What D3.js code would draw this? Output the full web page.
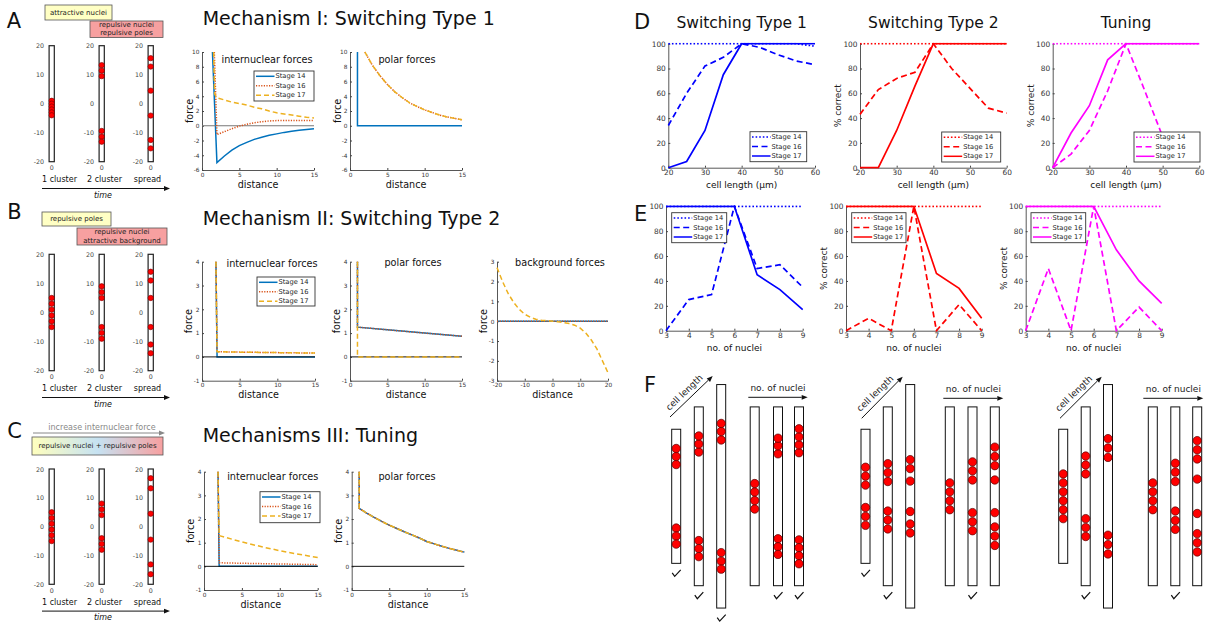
<!DOCTYPE html>
<html>
<head>
<meta charset="utf-8">
<script src="https://cdn.jsdelivr.net/npm/d3@7"></script>
<style>
  body { margin: 0; background: #fff; }
  svg { display: block; font-family: 'DejaVu Sans', sans-serif; }
</style>
</head>
<body>
<svg id="svg" width="1210" height="627"></svg>
<script>
// ---------- data ----------
const stageNames = ['Stage 14', 'Stage 16', 'Stage 17'];
const clusterLabels = ['1 cluster', '2 cluster', 'spread'];
const columnTicks = [20, 10, 0, -10, -20];

// nucleus positions along the cell (-20..20) for the three snapshots
const nucleiA = [[1, 0, -1, -2, -3, -4], [13.3, 11.4, 9.5, -9.4, -11.4, -13.1], [15.7, 12.8, 4.5, -4.1, -12.5, -15.4]];
const nucleiB = [[5, 3, 1, -1, -3, -5], [9, 7, 5, -5, -7, -9], [14, 11, 5, -5, -11, -14]];
const nucleiC = [[5, 3, 1, -1, -3, -5], [8, 6, 4, -4, -6, -8], [16.8, 13.3, 4.5, -4.5, -13.1, -16.5]];

// force curves, [distance, force]
const m1Inter14 = [[1.4, 10], [2, -5], [3, -4.1], [4, -3.3], [5, -2.7], [6, -2.25], [7, -1.85], [8, -1.55], [9, -1.3], [10, -1.1], [11, -0.9], [12, -0.75], [13, -0.62], [14, -0.5], [15, -0.4]];
const m1Inter16 = [[1.65, 10], [2, -1.2], [3, -0.8], [4, -0.4], [5, -0.05], [6, 0.2], [7, 0.4], [8, 0.55], [9, 0.65], [10, 0.7], [11, 0.72], [12, 0.72], [13, 0.72], [14, 0.7], [15, 0.7]];
const m1Inter17 = [[1.55, 10], [1.7, 4.3], [2, 3.8], [3, 3.5], [4, 3.2], [5, 3.0], [6, 2.8], [7, 2.5], [8, 2.3], [9, 2.0], [10, 1.75], [11, 1.6], [12, 1.45], [13, 1.3], [14, 1.15], [15, 1.05]];
const m1Polar14 = [[1, 10], [1, 0], [15, 0]];
const m1Polar16 = [[2, 10], [3, 8.2], [4, 6.8], [5, 5.6], [6, 4.6], [7, 3.8], [8, 3.1], [9, 2.6], [10, 2.15], [11, 1.8], [12, 1.45], [13, 1.2], [14, 1.0], [15, 0.8]];
const m1Polar17 = [[2, 10], [3, 8.2], [4, 6.8], [5, 5.6], [6, 4.6], [7, 3.8], [8, 3.1], [9, 2.6], [10, 2.15], [11, 1.8], [12, 1.45], [13, 1.2], [14, 1.0], [15, 0.8]];

const m2Inter14 = [[1.85, 4], [2, 0], [15, 0]];
const m2Inter16 = [[1.85, 4], [2, 0.22], [5, 0.2], [10, 0.18], [15, 0.16]];
const m2Inter17 = [[1.85, 4], [2, 0.22], [5, 0.2], [10, 0.18], [15, 0.16]];
const m2Polar14 = [[1, 4], [1, 1.25], [5, 1.14], [10, 1.0], [15, 0.87]];
const m2Polar16 = [[1, 4], [1, 1.25], [5, 1.14], [10, 1.0], [15, 0.87]];
const m2Polar17 = [[1, 4], [1, 0], [15, 0]];
const m2Back14 = [[-20, 0], [20, 0]];
const m2Back16 = [[-20, 0], [20, 0]];
const m2Back17 = [[-20, 2.7], [-18, 2.0], [-16, 1.4], [-14, 0.95], [-12, 0.6], [-10, 0.35], [-8, 0.2], [-6, 0.1], [-4, 0.05], [-2, 0.03], [0, 0], [2, -0.03], [4, -0.07], [6, -0.12], [8, -0.2], [10, -0.35], [12, -0.6], [14, -0.95], [16, -1.4], [18, -2.0], [20, -2.6]];

const m3Inter14 = [[1.85, 4], [2, 0], [15, 0]];
const m3Inter16 = [[1.85, 4], [2, 0.15], [5, 0.13], [10, 0.1], [15, 0.07]];
const m3Inter17 = [[1.85, 4], [2, 1.3], [4, 1.12], [6, 0.95], [8, 0.8], [10, 0.66], [12, 0.54], [15, 0.37]];
const m3Polar = [[1, 4], [1, 2.45], [2, 2.25], [3, 2.07], [4, 1.9], [5, 1.74], [6, 1.6], [7, 1.46], [8, 1.33], [9, 1.2], [10, 1.05], [11, 0.95], [12, 0.85], [13, 0.76], [14, 0.68], [15, 0.6]];

// % correct vs cell length (stage 14, 16, 17)
const cellLength = [20, 25, 30, 35, 40, 45, 50, 55, 60];
const lenType1 = [[100, 100, 100, 100, 100, 100, 100, 100, 98], [34, 60, 82, 89, 100, 97, 91, 86, 83], [0, 5, 30, 75, 100, 100, 100, 100, 100]];
const lenType2 = [[100, 100, 100, 100, 100, 100, 100, 100, 100], [43, 63, 72, 77, 100, 80, 64, 48, 44], [0, 0, 30, 66, 100, 100, 100, 100, 100]];
const lenTuning = [[100, 100, 100, 100, 100, 100, 100, 100, 100], [0, 11, 30, 62, 100, 63, 25, 14, 12], [0, 28, 50, 87, 100, 100, 100, 100, 100]];

// % correct vs number of nuclei
const nucleiCount = [3, 4, 5, 6, 7, 8, 9];
const numType1 = [[100, 100, 100, 100, 100, 100, 100], [0, 25, 29, 100, 50, 53, 35], [100, 100, 100, 100, 45, 33, 17]];
const numType2 = [[100, 100, 100, 100, 100, 100, 100], [0, 10, 0, 100, 0, 21, 0], [100, 100, 100, 100, 46, 34, 10]];
const numTuning = [[100, 100, 100, 100, 100, 100, 100], [0, 50, 0, 100, 0, 19, 0], [100, 100, 100, 100, 65, 40, 22]];

// panel F: cell length (um) and nucleus positions (um from cell centre)
const fCellLength = [30, 40, 50, 40, 40, 40];
const fType1 = [[7.1, 8.9, 10.7, -7.1, -8.9, -10.7], [9.9, 11.7, 13.5, -9.9, -11.7, -13.5], [12.6, 14.5, 16.3, -12.6, -14.5, -16.3],
  [2.85, 0.95, -0.95, -2.85], [9.5, 11.3, 13, -9.5, -11.3, -13], [9.75, 11.5, 13.3, 15.1, -9.75, -11.5, -13.3, -15.1]];
const fType2 = [[2.5, 4.5, 6.5, -2.5, -4.5, -6.5], [3.3, 5.3, 7.3, -3.3, -5.3, -7.3], [3.4, 6.2, 8.2, -3.4, -6.2, -8.2],
  [3, 1, -1, -3], [3.65, 5.7, 7.7, -3.65, -5.7, -7.7], [3.65, 6.85, 8.9, 11, -3.65, -6.85, -8.9, -11]];
const fTuning = [[5, 3, 1, -1, -3, -5], [9, 7, 5, -5, -7, -9], [8.7, 10.8, 12.9, -8.7, -10.8, -12.9],
  [3, 1, -1, -3], [3.3, 5.4, 7.4, -3.3, -5.4, -7.4], [3.85, 8.35, 10.4, 12.45, -3.85, -8.35, -10.4, -12.45]];
const fChecks = [[1, 1, 1, 0, 1, 1], [1, 1, 0, 0, 1, 0], [0, 1, 0, 0, 1, 0]];

// ---------- drawing ----------
const svg = d3.select('#svg');
const FONT = "'DejaVu Sans', sans-serif";
const C14 = '#0072BD', C16 = '#D95319', C17 = '#EDB120';
const stageColors = [C14, C16, C17];
const forceDash = [null, '1.2,1.4', '5,3'];
const pctDashByStage = ['1.6,2', '6,3.5', null];
const defs = svg.append('defs');
let clipN = 0;

function txt(g, x, y, s, size, opts = {}) {
  const t = g.append('text').attr('x', x).attr('y', y).text(s)
    .attr('font-size', size).attr('font-family', FONT)
    .attr('fill', opts.fill || '#111')
    .attr('text-anchor', opts.anchor || 'middle');
  if (opts.central !== false) t.attr('dominant-baseline', 'central');
  if (opts.italic) t.attr('font-style', 'italic');
  if (opts.rotate) t.attr('transform', `rotate(${opts.rotate},${x},${y})`);
  return t;
}

function arrow(g, x1, y1, x2, y2, color, w) {
  const ang = Math.atan2(y2 - y1, x2 - x1);
  const L = 6, W = 2.4;
  const bx = x2 - L * Math.cos(ang), by = y2 - L * Math.sin(ang);
  g.append('line').attr('x1', x1).attr('y1', y1).attr('x2', bx).attr('y2', by)
    .attr('stroke', color).attr('stroke-width', w);
  g.append('path')
    .attr('d', `M${x2},${y2}L${bx - W * Math.sin(ang)},${by + W * Math.cos(ang)}L${bx + W * Math.sin(ang)},${by - W * Math.cos(ang)}Z`)
    .attr('fill', color);
}

function axesBox(box, xDom, yDom, xTicks, yTicks, tickFont) {
  const x = d3.scaleLinear().domain(xDom).range([box[0], box[2]]);
  const y = d3.scaleLinear().domain(yDom).range([box[3], box[1]]);
  const g = svg.append('g');
  const id = 'clip' + (clipN++);
  defs.append('clipPath').attr('id', id).append('rect')
    .attr('x', box[0] - 1).attr('y', box[1] - 1)
    .attr('width', box[2] - box[0] + 2).attr('height', box[3] - box[1] + 2);
  const xa = g.append('g').attr('transform', `translate(0,${box[3]})`)
    .call(d3.axisBottom(x).tickValues(xTicks).tickSizeInner(-2).tickSizeOuter(0).tickPadding(2.5).tickFormat(d => String(d)));
  const ya = g.append('g').attr('transform', `translate(${box[0]},0)`)
    .call(d3.axisLeft(y).tickValues(yTicks).tickSizeInner(-2).tickSizeOuter(0).tickPadding(2.5).tickFormat(d => String(d)));
  [xa, ya].forEach(a => {
    a.select('.domain').attr('stroke', '#444').attr('stroke-width', 0.9);
    a.selectAll('.tick line').attr('stroke', '#444');
    a.selectAll('.tick text').attr('fill', '#333').attr('font-size', tickFont).attr('font-family', FONT);
  });
  const plot = g.append('g').attr('clip-path', `url(#${id})`);
  return { g, plot, x, y };
}

function legend(g, box, colors, dashes, lw) {
  g.append('rect').attr('x', box[0]).attr('y', box[1])
    .attr('width', box[2] - box[0]).attr('height', box[3] - box[1])
    .attr('fill', '#fff').attr('stroke', '#333').attr('stroke-width', 0.9);
  stageNames.forEach((s, i) => {
    const yy = box[1] + 5.3 + i * 9.5;
    g.append('line').attr('x1', box[0] + 2).attr('x2', box[0] + 20.5).attr('y1', yy).attr('y2', yy)
      .attr('stroke', colors[i]).attr('stroke-width', lw).attr('stroke-dasharray', dashes[i]);
    txt(g, box[0] + 21.5, yy, s, 6.7, { anchor: 'start', fill: '#222' });
  });
}

function forcePlot(cfg) {
  const { g, plot, x, y } = axesBox(cfg.box, cfg.xDom, cfg.yDom, cfg.xTicks, cfg.yTicks, 5.8);
  const line = d3.line().x(d => x(d[0])).y(d => y(d[1]));
  const draw = (pts, i) => plot.append('path').datum(pts).attr('d', line)
    .attr('fill', 'none').attr('stroke', stageColors[i]).attr('stroke-width', 1.5)
    .attr('stroke-dasharray', forceDash[i]);
  draw(cfg.series[0], 0);
  if (cfg.zero) {
    plot.append('line').attr('x1', x(cfg.xDom[0])).attr('x2', x(cfg.xDom[1]))
      .attr('y1', y(0)).attr('y2', y(0)).attr('stroke', cfg.zero).attr('stroke-width', 1);
  }
  draw(cfg.series[1], 1);
  draw(cfg.series[2], 2);
  txt(g, cfg.titleX, cfg.titleY, cfg.title, 9.7);
  txt(g, (cfg.box[0] + cfg.box[2]) / 2, cfg.box[3] + 14, 'distance', 9.6);
  txt(g, cfg.box[0] - 13, (cfg.box[1] + cfg.box[3]) / 2, 'force', 9.6, { rotate: -90 });
  if (cfg.legend) legend(g, cfg.legend, stageColors, forceDash, 1.5);
}

function pctPlot(cfg) {
  const { g, plot, x, y } = axesBox(cfg.box, cfg.xDom, [0, 100], cfg.xTicks, [0, 20, 40, 60, 80, 100], 7.4);
  const line = d3.line().x(d => x(d[0])).y(d => y(d[1]));
  cfg.values.forEach((vals, i) => {
    plot.append('path').datum(cfg.xs.map((v, k) => [v, vals[k]])).attr('d', line)
      .attr('fill', 'none').attr('stroke', cfg.color).attr('stroke-width', 1.7)
      .attr('stroke-dasharray', pctDashByStage[i]);
  });
  if (cfg.title) txt(g, (cfg.box[0] + cfg.box[2]) / 2, 28.3, cfg.title, 15.5, { central: false });
  txt(g, (cfg.box[0] + cfg.box[2]) / 2, cfg.box[3] + 17, cfg.xlabel, 9);
  if (cfg.ylabel) txt(g, cfg.box[0] - 22, (cfg.box[1] + cfg.box[3]) / 2, '% correct', 9, { rotate: -90, fill: '#222' });
  legend(g, cfg.legend, [cfg.color, cfg.color, cfg.color], pctDashByStage, 1.5);
}

const colX = [51.7, 101.7, 150.7];
const colLabelX = [59.5, 104.5, 147.5];
function nucleiPanel(yTop, yBot, nuclei) {
  const y = d3.scaleLinear().domain([-20, 20]).range([yBot, yTop]);
  const g = svg.append('g');
  nuclei.forEach((col, i) => {
    const cx = colX[i];
    const ax = g.append('g').attr('transform', `translate(${cx - 2.6},0)`)
      .call(d3.axisLeft(y).tickValues(columnTicks).tickSize(0).tickPadding(5).tickFormat(d => String(d)));
    ax.select('.domain').remove();
    ax.selectAll('.tick text').attr('fill', '#444').attr('font-size', 6.3).attr('font-family', FONT);
    g.append('rect').attr('x', cx - 2.6).attr('y', yTop).attr('width', 5.2).attr('height', yBot - yTop)
      .attr('fill', '#fff').attr('stroke', '#222').attr('stroke-width', 1.2);
    g.selectAll(null).data(col).join('circle')
      .attr('cx', cx).attr('cy', d => y(d)).attr('r', 2.7)
      .attr('fill', '#f00').attr('stroke', '#700').attr('stroke-width', 0.6);
    txt(g, cx, yBot + 6, '0', 6.3, { fill: '#444' });
    txt(g, colLabelX[i], yBot + 17.8, clusterLabels[i], 8);
  });
  arrow(g, 42, yBot + 26.8, 170, yBot + 26.8, '#111', 1);
  txt(g, 103, yBot + 33.3, 'time', 8, { italic: true });
}

function labelBox(g, x0, y0, x1, y1, fill, lines) {
  g.append('rect').attr('x', x0).attr('y', y0).attr('width', x1 - x0).attr('height', y1 - y0)
    .attr('fill', fill).attr('stroke', '#555').attr('stroke-width', 0.8);
  const cy = (y0 + y1) / 2;
  lines.forEach((s, i) => txt(g, (x0 + x1) / 2, cy + (i - (lines.length - 1) / 2) * 8.2, s, 7, { fill: '#222' }));
}

const page = svg.append('g');
// panel letters
[['A', 6.7, 28.3], ['B', 7.3, 219.3], ['C', 7.3, 438.3], ['D', 634, 28.5], ['E', 634, 221], ['F', 644, 392]]
  .forEach(p => txt(page, p[1], p[2], p[0], 21, { anchor: 'start', central: false }));

// mechanism titles
txt(page, 202.7, 25, 'Mechanism I: Switching Type 1', 19, { anchor: 'start', central: false });
txt(page, 202.7, 225, 'Mechanism II: Switching Type 2', 19, { anchor: 'start', central: false });
txt(page, 202.7, 442, 'Mechanisms III: Tuning', 19, { anchor: 'start', central: false });

// row A/B/C label boxes
labelBox(page, 45, 5, 112, 20, '#ffffc4', ['attractive nuclei']);
labelBox(page, 90, 21, 163, 37.5, '#f7a0a0', ['repulsive nuclei', 'repulsive poles']);
labelBox(page, 42, 212, 111, 226, '#ffffc4', ['repulsive poles']);
labelBox(page, 77, 228, 167, 245, '#f7a0a0', ['repulsive nuclei', 'attractive background']);

const grad = defs.append('linearGradient').attr('id', 'tuneGrad');
grad.append('stop').attr('offset', '0%').attr('stop-color', '#ffffbe');
grad.append('stop').attr('offset', '50%').attr('stop-color', '#c6e2f2');
grad.append('stop').attr('offset', '100%').attr('stop-color', '#f7a0a0');
txt(page, 102, 427.5, 'increase internuclear force', 8, { fill: '#888' });
arrow(page, 33, 433, 165, 433, '#888', 1);
labelBox(page, 32, 437, 163, 455, 'url(#tuneGrad)', ['repulsive nuclei + repulsive poles']);

nucleiPanel(45.7, 161.7, nucleiA);
nucleiPanel(254.3, 370.7, nucleiB);
nucleiPanel(469, 584.3, nucleiC);

const ticks15 = [0, 5, 10, 15];
forcePlot({ box: [202, 52, 314, 170], xDom: [0, 15], yDom: [-6, 10], xTicks: ticks15, yTicks: [-6, -4, -2, 0, 2, 4, 6, 8, 10],
  title: 'internuclear forces', titleX: 267, titleY: 59, series: [m1Inter14, m1Inter16, m1Inter17], zero: '#777',
  legend: [254, 71, 314, 101] });
forcePlot({ box: [350, 52, 462, 170], xDom: [0, 15], yDom: [-6, 10], xTicks: ticks15, yTicks: [-6, -4, -2, 0, 2, 4, 6, 8, 10],
  title: 'polar forces', titleX: 407, titleY: 59, series: [m1Polar14, m1Polar16, m1Polar17] });

forcePlot({ box: [202, 261.7, 315, 380.7], xDom: [0, 15], yDom: [-1, 4], xTicks: ticks15, yTicks: [-1, 0, 1, 2, 3, 4],
  title: 'internuclear forces', titleX: 272, titleY: 263, series: [m2Inter14, m2Inter16, m2Inter17], zero: '#111',
  legend: [257, 277, 315, 306] });
forcePlot({ box: [350, 261.7, 462, 380.7], xDom: [0, 15], yDom: [-1, 4], xTicks: ticks15, yTicks: [-1, 0, 1, 2, 3, 4],
  title: 'polar forces', titleX: 413, titleY: 262, series: [m2Polar14, m2Polar16, m2Polar17], zero: '#111' });
forcePlot({ box: [497, 261.7, 608, 380.7], xDom: [-20, 20], yDom: [-3, 3], xTicks: [-20, -10, 0, 10, 20], yTicks: [-3, -2, -1, 0, 1, 2, 3],
  title: 'background forces', titleX: 560, titleY: 262, series: [m2Back14, m2Back16, m2Back17] });

forcePlot({ box: [204, 471.7, 317.7, 590], xDom: [0, 15], yDom: [-1, 4], xTicks: ticks15, yTicks: [-1, 0, 1, 2, 3, 4],
  title: 'internuclear forces', titleX: 272.7, titleY: 476, series: [m3Inter14, m3Inter16, m3Inter17], zero: '#111',
  legend: [260, 491.7, 320, 522.7] });
forcePlot({ box: [351.7, 471.7, 464.3, 590], xDom: [0, 15], yDom: [-1, 4], xTicks: ticks15, yTicks: [-1, 0, 1, 2, 3, 4],
  title: 'polar forces', titleX: 407, titleY: 476, series: [m3Polar, m3Polar, m3Polar], zero: '#111' });

// panel D and E
const pctColors = ['#0000ff', '#ff0000', '#ff00ff'];
const pctTitles = ['Switching Type 1', 'Switching Type 2', 'Tuning'];
const dBoxes = [[668.3, 43.7, 815, 167.7], [860, 43.7, 1006.7, 167.7], [1052.7, 43.7, 1199.3, 167.7]];
const eBoxes = [[666, 206.3, 802.7, 330.7], [846, 206.3, 981.7, 330.7], [1025.7, 206.3, 1161.7, 330.7]];
const dLegends = [[750, 131.7, 806.7, 161.7], [941.7, 132, 1000.7, 162], [1134, 132, 1200, 162]];
const eLegends = [[671.7, 212.7, 726.7, 242.7], [851.7, 212.7, 906, 242.7], [1031, 212.7, 1085.7, 242.7]];
[lenType1, lenType2, lenTuning].forEach((vals, i) => pctPlot({
  box: dBoxes[i], xDom: [20, 60], xTicks: [20, 30, 40, 50, 60], xs: cellLength, values: vals,
  color: pctColors[i], title: pctTitles[i], xlabel: 'cell length (\u03bcm)', ylabel: i > 0, legend: dLegends[i] }));
[numType1, numType2, numTuning].forEach((vals, i) => pctPlot({
  box: eBoxes[i], xDom: [3, 9], xTicks: nucleiCount, xs: nucleiCount, values: vals,
  color: pctColors[i], xlabel: 'no. of nuclei', ylabel: i > 0, legend: eLegends[i] }));

// panel F
const fY = d3.scaleLinear().domain([-25, 25]).range([496.3 + 111.75, 496.3 - 111.75]);
const fCellX = [[676.2, 698.8, 721.2, 754.7, 778, 799], [865.5, 887.8, 910.2, 949.8, 972.5, 994.8], [1063.2, 1085.7, 1108, 1152.8, 1175.3, 1197.2]];
const fLenArrows = [[670, 417, 712.7, 376], [861.7, 418.3, 902.7, 376.7], [1060, 418.3, 1101.7, 376.7]];
const fNumArrows = [[748.3, 807.7, 397.3], [943.3, 1003.3, 398.3], [1143.3, 1203.3, 398.3]];
const fg = svg.append('g');
[fType1, fType2, fTuning].forEach((cells, gi) => {
  cells.forEach((nuc, ci) => {
    const cx = fCellX[gi][ci];
    const half = fCellLength[ci] / 2;
    fg.append('rect').attr('x', cx - 4.5).attr('y', fY(half)).attr('width', 9).attr('height', fY(-half) - fY(half))
      .attr('fill', '#fff').attr('stroke', '#111').attr('stroke-width', 1);
    fg.selectAll(null).data(nuc).join('circle')
      .attr('cx', cx).attr('cy', d => fY(d)).attr('r', 4.2)
      .attr('fill', '#f00').attr('stroke', '#500').attr('stroke-width', 0.7);
    if (fChecks[gi][ci]) {
      const by = fY(-half) + 10;
      fg.append('path').attr('d', `M${cx - 4},${by - 0.5}L${cx - 1.5},${by + 3}L${cx + 4.5},${by - 3.5}`)
        .attr('fill', 'none').attr('stroke', '#111').attr('stroke-width', 1.2);
    }
  });
  const a = fLenArrows[gi];
  arrow(fg, a[0], a[1], a[2], a[3], '#111', 1);
  const mx = (a[0] + a[2]) / 2 - 7, my = (a[1] + a[3]) / 2 - 4;
  txt(fg, mx, my, 'cell length', 9, { rotate: -44, fill: '#222' });
  const n = fNumArrows[gi];
  arrow(fg, n[0], n[2], n[1], n[2], '#111', 1);
  txt(fg, (n[0] + n[1]) / 2, n[2] - 9.5, 'no. of nuclei', 9, { fill: '#222' });
});
</script>
</body>
</html>
